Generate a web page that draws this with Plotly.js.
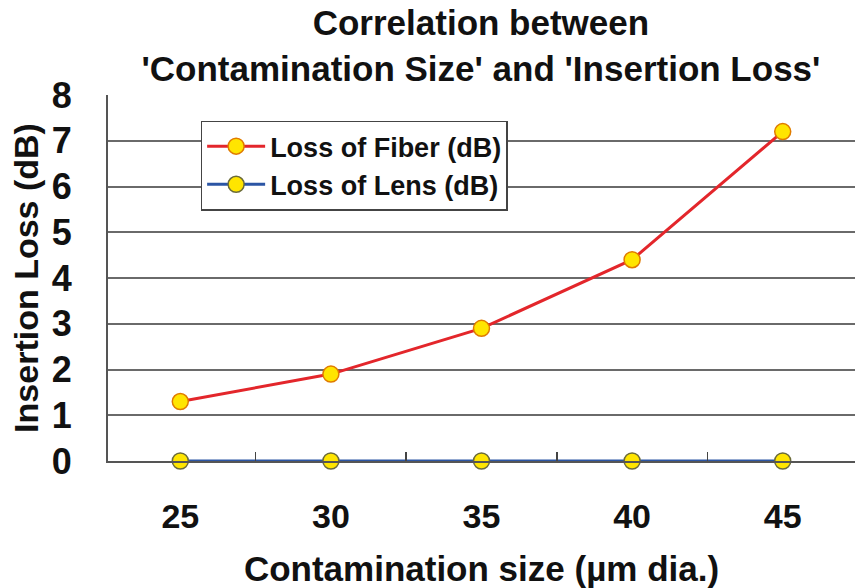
<!DOCTYPE html>
<html>
<head>
<meta charset="utf-8">
<script src="https://cdn.plot.ly/plotly-3.0.1.min.js"></script>
<style>html,body{margin:0;padding:0;background:#fff;}#chart{width:855px;height:588px;}</style>
</head>
<body>
<div id="chart"></div>
<script>
const categories = ['25', '30', '35', '40', '45'];
const fiberLoss = [1.3, 1.9, 2.9, 4.4, 7.2];
const lensLoss = [0, 0, 0, 0, 0];
const yTickVals = [0, 1, 2, 3, 4, 5, 6, 7, 8];

const FONT = 'Liberation Sans, Arial, Helvetica, sans-serif';

const traces = [
  {
    x: categories, y: fiberLoss, type: 'scatter', mode: 'lines+markers',
    name: 'Loss of Fiber (dB)', cliponaxis: false,
    line: {color: '#E3262B', width: 3},
    marker: {color: '#FFE500', size: 16, line: {color: '#E07B00', width: 1.5}}
  },
  {
    x: categories, y: lensLoss, type: 'scatter', mode: 'lines+markers',
    name: 'Loss of Lens (dB)', cliponaxis: false,
    line: {color: '#2B55A4', width: 3},
    marker: {color: '#FFE500', size: 16, line: {color: '#6B6B3A', width: 1.5}}
  }
];

const layout = {
  width: 855, height: 588,
  margin: {l: 108, r: 0, t: 95, b: 127},
  paper_bgcolor: '#fff', plot_bgcolor: '#fff',
  font: {family: FONT, color: '#111', weight: 'bold'},
  title: {
    text: 'Correlation between<br>\'Contamination Size\' and \'Insertion Loss\'',
    font: {family: FONT, size: 35, color: '#111', weight: 'bold'},
    x: 0.5625, xref: 'container', xanchor: 'center',
    y: 0.94, yref: 'container', yanchor: 'top'
  },
  xaxis: {
    type: 'category', range: [-0.48, 4.48],
    showgrid: false, zeroline: false,
    showline: true, linecolor: '#555', linewidth: 2,
    ticks: 'inside', tickson: 'boundaries', ticklen: 9, tickwidth: 1.5, tickcolor: '#444',
    ticklabelstandoff: 24,
    tickfont: {family: FONT, size: 34, color: '#111', weight: 'bold'},
    title: {text: 'Contamination size (µm dia.)', standoff: 30,
            font: {family: FONT, size: 35, color: '#111', weight: 'bold'}},
    fixedrange: true
  },
  yaxis: {
    range: [0, 8], tickvals: yTickVals, ticktext: yTickVals.map(String),
    showgrid: true, gridcolor: '#6a6a6a', gridwidth: 2,
    zeroline: false, showline: true, linecolor: '#555', linewidth: 2,
    ticks: '', ticklabelstandoff: 27,
    tickfont: {family: FONT, size: 36, color: '#111', weight: 'bold'},
    title: {text: 'Insertion Loss (dB)', standoff: 3,
            font: {family: FONT, size: 34, color: '#111', weight: 'bold'}},
    fixedrange: true
  },
  showlegend: true,
  legend: {
    x: 0.124, y: 0.93, xanchor: 'left', yanchor: 'top',
    bgcolor: '#fff', bordercolor: '#444', borderwidth: 1.5,
    font: {family: FONT, size: 27, color: '#111', weight: 'bold'},
    itemwidth: 58
  }
};

Plotly.newPlot('chart', traces, layout, {displayModeBar: false, staticPlot: true});
</script>
</body>
</html>
